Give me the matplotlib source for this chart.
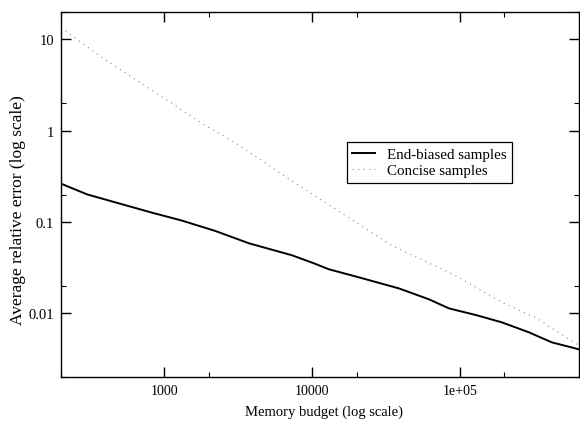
import matplotlib
matplotlib.use("Agg")
import matplotlib.pyplot as plt
from matplotlib.ticker import FixedLocator, LogLocator, NullFormatter

plt.rcParams['font.family'] = ['Liberation Serif', 'DejaVu Serif']

# Data
end_x = [200, 302, 817, 1303, 2200, 3750, 7330, 10300, 13000, 20800, 38700, 61800, 84400, 130000, 192000, 293000, 418000, 640000]
end_y = [0.263, 0.200, 0.127, 0.104, 0.080, 0.0583, 0.0431, 0.0352, 0.0303, 0.0247, 0.0187, 0.0142, 0.0113, 0.0095, 0.00795, 0.00618, 0.0048, 0.00402]

con_x = [200, 380, 608, 1050, 1800, 3060, 6670, 34700, 93000, 192000, 331000, 603000, 640000]
con_y = [13.5, 6.3, 3.84, 2.15, 1.2, 0.73, 0.31, 0.055, 0.026, 0.0132, 0.0088, 0.0047, 0.0044]

series_labels = ["End-biased samples", "Concise samples"]
xtick_vals = [1000, 10000, 100000]
xtick_labels = ["1000", "10000", "1e+05"]
ytick_vals = [0.01, 0.1, 1, 10]
ytick_labels = ["0.01", "0.1", "1", "10"]

fig = plt.figure(figsize=(5.8, 4.27), dpi=100)
ax = fig.add_axes([61/580, 1-378/427, (579-61)/580, (378-13)/427])

ax.plot(end_x, end_y, color='black', lw=1.4, label=series_labels[0])
ax.plot(con_x, con_y, color='#8a8a8a', lw=0.8, linestyle=(0, (1, 4)), label=series_labels[1])

ax.set_xscale('log')
ax.set_yscale('log')
ax.set_xlim(200, 640000)
ax.set_ylim(0.002, 20)

ax.xaxis.set_major_locator(FixedLocator(xtick_vals))
ax.set_xticklabels(xtick_labels)
ax.yaxis.set_major_locator(FixedLocator(ytick_vals))
ax.set_yticklabels(ytick_labels)
ax.xaxis.set_minor_locator(LogLocator(base=10, subs=[2.0]))
ax.yaxis.set_minor_locator(LogLocator(base=10, subs=[2.0]))
ax.xaxis.set_minor_formatter(NullFormatter())
ax.yaxis.set_minor_formatter(NullFormatter())

ax.tick_params(which='both', direction='in', top=True, right=True, labelsize=10, color='black')
ax.tick_params(axis='y', labelsize=10.5)
ax.tick_params(which='major', length=7, width=1.0)
ax.tick_params(which='minor', length=3.5, width=0.8)
ax.tick_params(axis='x', which='major', pad=5)
ax.tick_params(axis='y', which='major', pad=5)
for s in ax.spines.values():
    s.set_linewidth(1.0)

leg = ax.legend(loc='upper left', bbox_to_anchor=((347-61)/518, 1-(143-13)/365),
                fontsize=10.8, frameon=True, fancybox=False, edgecolor='black',
                framealpha=1, handlelength=1.5, borderpad=0.35, labelspacing=0.2,
                handletextpad=0.8, borderaxespad=0)
leg.get_frame().set_linewidth(0.9)

fig.text(324/580, 1-412/427, "Memory budget (log scale)", ha='center', va='center', fontsize=10.5)
fig.text(18/580, 1-210/427, "Average relative error (log scale)", ha='center', va='center', rotation=90, fontsize=12.5)

fig.savefig("out.png", dpi=100)
